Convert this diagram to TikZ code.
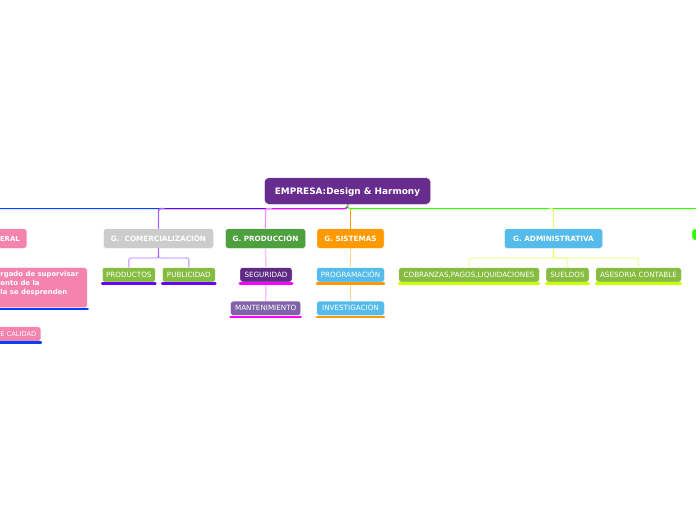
\documentclass[tikz,border=0pt]{standalone}
\usepackage{fontspec}
\setmainfont{DejaVu Sans}
\definecolor{cPurple}{HTML}{682C8F}
\definecolor{cPink}{HTML}{F484AE}
\definecolor{cGray}{HTML}{CCCCCC}
\definecolor{cGreen}{HTML}{4EA03F}
\definecolor{cLeaf}{HTML}{86BC41}
\definecolor{cOrange}{HTML}{FF9900}
\definecolor{lOrange}{HTML}{FF9900}
\definecolor{cSky}{HTML}{55BBEA}
\definecolor{cMauve}{HTML}{8063A8}
\definecolor{cDeep}{HTML}{5E2A84}
\definecolor{lBlue}{HTML}{0040FF}
\definecolor{lViolet}{HTML}{6600FF}
\definecolor{lMag}{HTML}{FF00FF}
\definecolor{lLime}{HTML}{33FF00}
\definecolor{lYel}{HTML}{CCFF00}
\tikzset{
  box/.style={rounded corners=2.5pt,draw=white,line width=.4pt,text=white,inner sep=0pt,align=center},
  root/.style={box,rounded corners=4pt,font=\bfseries\fontsize{8.9}{11}\selectfont,minimum width=166pt,minimum height=26.5pt,text height=6.8pt,text depth=0pt,fill=cPurple},
  main/.style={box,font=\bfseries\fontsize{7.25}{8}\selectfont,minimum height=19.5pt,text height=5.4pt,text depth=0pt},
  leaf/.style={box,font=\fontsize{7.2}{8}\selectfont,minimum height=14.5pt,text height=5.3pt,text depth=0pt},
  trunk/.style={line width=1pt,rounded corners=2.5pt},
  lowline/.style={line width=1.4pt,rounded corners=2pt},
  ul/.style={line width=2.2pt,line cap=round}
}
\begin{document}
\begin{tikzpicture}[x=1pt,y=-1pt]
\clip (0,0) rectangle (696,520);
\coordinate (le) at (0,208.5);
\coordinate (re) at (696,208.5);
\node[root] (r) at (347.5,191) {EMPRESA:Design \& Harmony};
% first-level nodes
\node[main,fill=cPink,minimum width=67pt,anchor=east,text width=53pt,align=right,font=\bfseries\fontsize{6.9}{8}\selectfont] (ger) at (27,238.5) {ERAL};
\node[main,fill=cGray,minimum width=110pt] (com) at (158.5,238.5) {G.~~COMERCIALIZACIÓN};
\node[main,fill=cGreen,minimum width=80pt] (pro) at (265.5,238.5) {G. PRODUCCIÓN};
\node[main,fill=cOrange,minimum width=67pt] (sis) at (350.5,238.5) {G. SISTEMAS};
\node[main,fill=cSky,minimum width=98pt] (adm) at (553.5,238.5) {G. ADMINISTRATIVA};
\node[main,fill=lLime,minimum width=20pt,minimum height=11pt] (gr) at (702,234.5) {};
% leaves
\node[leaf,fill=cPink,minimum width=167pt,minimum height=40pt,anchor=north east] (big) at (87.5,267.5) {};
\node[anchor=north west,inner sep=0pt,text=white,align=left,font=\bfseries\fontsize{6.9}{8.6}\selectfont] (bigt) at (0.3,271.5) {rgado de supervisar\\ento de la\\la se desprenden};
\node[leaf,fill=cPink,minimum width=61pt,anchor=east,text width=52pt,align=right,font=\fontsize{6.65}{8}\selectfont] (cal) at (41,334) {E CALIDAD};
\node[leaf,fill=cLeaf,minimum width=53pt] (prd) at (128.8,274.8) {PRODUCTOS};
\node[leaf,fill=cLeaf,minimum width=53pt] (pub) at (188.8,274.8) {PUBLICIDAD};
\node[leaf,fill=cDeep,minimum width=52pt] (seg) at (266,274.8) {SEGURIDAD};
\node[leaf,fill=cMauve,minimum width=70pt] (man) at (265.7,308.3) {MANTENIMIENTO};
\node[leaf,fill=cSky,minimum width=67.5pt] (prg) at (350.5,274.8) {PROGRAMACIÓN};
\node[leaf,fill=cSky,minimum width=67.5pt] (inv) at (350.5,308.3) {INVESTIGACIÓN};
\node[leaf,fill=cLeaf,minimum width=140.5pt] (cob) at (469,274.8) {COBRANZAS,PAGOS,LIQUIDACIONES};
\node[leaf,fill=cLeaf,minimum width=43pt] (sue) at (567.5,274.8) {SUELDOS};
\node[leaf,fill=cLeaf,minimum width=85.5pt] (ase) at (638.5,274.8) {ASESORIA CONTABLE};
% trunk connectors
\draw[trunk,lBlue] (r.south) |- (le);
\draw[trunk,lViolet] (r.south) |- (le -| pro.north) -- (le -| com.north);
\draw[trunk,lMag] (r.south) |- (le -| pro.north);
\draw[trunk,lLime] (r.south) |- (re);
\draw[line width=1.4pt,lViolet!60!white,rounded corners=2.5pt] (le -| com.north) ++(6,0) -- (le -| com.north) -- (com.north);
\draw[line width=1.4pt,lMag!45!white,rounded corners=2.5pt] (le -| pro.north) ++(6,0) -- (le -| pro.north) -- (pro.north);
\draw[line width=1.4pt,lOrange] (le -| sis.north) -- (sis.north);
\draw[line width=1.4pt,lYel!55!white,rounded corners=2.5pt] (le -| adm.north) ++(-1,0) -- (le -| adm.north) -- (adm.north);
% second-level connectors
\draw[lowline,lViolet!30!white] (com.south) -- ++(0,9.5) -| (prd.north);
\draw[lowline,lViolet!30!white] (com.south) -- ++(0,9.5) -| (pub.north);
\draw[line width=1.4pt,lViolet!60!white] (com.south) -- ++(0,10);
\draw[line width=1.4pt,lMag!25!white] (pro.south) -- (seg.north);
\draw[line width=1.4pt,lMag!25!white] (seg.south) -- (man.north);
\draw[line width=1.4pt,lOrange!45!white] (sis.south) -- (prg.north);
\draw[line width=1.4pt,lOrange!45!white] (prg.south) -- (inv.north);
\draw[lowline,lYel!35!white] (adm.south) -- ++(0,9.5) -| (cob.north);
\draw[lowline,lYel!35!white] (adm.south) -- ++(0,9.5) -| (sue.north);
\draw[lowline,lYel!35!white] (adm.south) -- ++(0,9.5) -| (ase.north);
\draw[line width=1.4pt,lYel!55!white] (adm.south) -- ++(0,10);
% underlines
\draw[ul,lBlue] (le |- big.south) ++(0,1) -- ([shift={(.4,1)}]big.south east);
\draw[ul,lBlue] (le |- cal.south) ++(0,1) -- ([shift={(0,1)}]cal.south east);
\draw[ul,lViolet] ([shift={(0,1.2)}]prd.south west) -- ([shift={(0,1.2)}]prd.south east);
\draw[ul,lViolet] ([shift={(0,1.2)}]pub.south west) -- ([shift={(0,1.2)}]pub.south east);
\draw[ul,lMag] ([shift={(0,1.2)}]seg.south west) -- ([shift={(0,1.2)}]seg.south east);
\draw[ul,lMag] ([shift={(0,1.2)}]man.south west) -- ([shift={(0,1.2)}]man.south east);
\draw[ul,cOrange] ([shift={(.4,1.2)}]prg.south west) -- ([shift={(-.4,1.2)}]prg.south east);
\draw[ul,cOrange] ([shift={(.4,1.2)}]inv.south west) -- ([shift={(-.4,1.2)}]inv.south east);
\draw[ul,lYel] ([shift={(.4,1.2)}]cob.south west) -- ([shift={(-.4,1.2)}]cob.south east);
\draw[ul,lYel] ([shift={(.4,1.2)}]sue.south west) -- ([shift={(-.4,1.2)}]sue.south east);
\draw[ul,lYel] ([shift={(.4,1.2)}]ase.south west) -- ([shift={(-.4,1.2)}]ase.south east);
\end{tikzpicture}
\end{document}
